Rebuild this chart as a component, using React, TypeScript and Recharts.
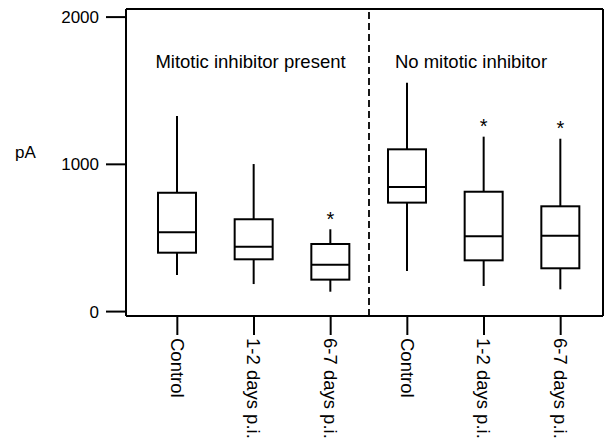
import React from 'react';
import { ComposedChart, Bar, Scatter, XAxis, YAxis, ReferenceLine, LabelList } from 'recharts';

// ---- data ----
const ids = ['mi-control', 'mi-12', 'mi-67', 'no-control', 'no-12', 'no-67'];
const tickLabels = ['Control', '1-2 days p.i.', '6-7 days p.i.', 'Control', '1-2 days p.i.', '6-7 days p.i.'];
const groupTitles = ['Mitotic inhibitor present', 'No mitotic inhibitor'];
const whiskerLow = [249, 187, 135, 276, 174, 151];
const q1 = [400, 355, 217, 740, 348, 294];
const median = [539, 441, 318, 846, 511, 515];
const q3 = [807, 627, 459, 1102, 814, 715];
const whiskerHigh = [1328, 1002, 559, 1554, 1188, 1174];
const significance = ['', '', '*', '', '*', '*'];
const yTicks = [0, 1000, 2000];
const yDomain: [number, number] = [-30, 2055];
const yLabel = 'pA';

const data = ids.map((id, i) => ({
  id,
  whisker: [whiskerLow[i], whiskerHigh[i]],
  box: [q1[i], q3[i]],
  median: median[i],
  sig: significance[i],
}));

const FONT = '"Liberation Sans", Arial, Helvetica, sans-serif';
const INK = '#000';
const BOX_W = 38;

const WhiskerShape = (p: any) => {
  const cx = p.x + p.width / 2;
  return <line x1={cx} x2={cx} y1={p.y} y2={p.y + p.height} stroke={INK} strokeWidth={2} />;
};

const BoxShape = (p: any) => (
  <rect x={p.x} y={p.y} width={p.width} height={p.height} fill="#fff" stroke={INK} strokeWidth={2} />
);

const MedianShape = (p: any) => (
  <line x1={p.cx - BOX_W / 2} x2={p.cx + BOX_W / 2} y1={p.cy} y2={p.cy} stroke={INK} strokeWidth={2} />
);

const StarLabel = (p: any) =>
  p.value ? (
    <text x={p.x + p.width / 2} y={p.y - 3.5} textAnchor="middle" fontSize={20} fontFamily={FONT} fill={INK}>
      {p.value}
    </text>
  ) : null;

const XTick = (p: any) => {
  const { x, y, payload } = p;
  const idx = ids.indexOf(payload.value);
  const label = idx >= 0 ? tickLabels[idx] : String(payload.value);
  return (
    <g transform={`translate(${x},${y})`}>
      <text transform="rotate(90)" x={0} y={6.6} textAnchor="start" fontSize={18.5} fontFamily={FONT} fill={INK}>
        {label}
      </text>
    </g>
  );
};

export default function App() {
  return (
    <div style={{ position: 'absolute', left: 0, top: 0, width: 604, height: 441, background: '#fff' }}>
      <ComposedChart
        width={604}
        height={441}
        data={data}
        margin={{ top: 8, right: 0, bottom: 0, left: 0 }}
        barGap={-BOX_W}
      >
        <XAxis
          dataKey="id"
          type="category"
          height={125}
          padding={{ left: 13, right: 4 }}
          axisLine={{ stroke: INK, strokeWidth: 2 }}
          tickLine={{ stroke: INK, strokeWidth: 2 }}
          tickSize={19}
          tickMargin={3}
          tick={<XTick />}
          interval={0}
        />
        <XAxis
          xAxisId="top"
          dataKey="id"
          type="category"
          orientation="top"
          height={1}
          padding={{ left: 13, right: 4 }}
          axisLine={{ stroke: INK, strokeWidth: 2 }}
          tick={false}
          tickLine={false}
        />
        <YAxis
          type="number"
          width={126}
          domain={yDomain}
          allowDataOverflow
          ticks={yTicks}
          interval={0}
          axisLine={{ stroke: INK, strokeWidth: 2 }}
          tickLine={{ stroke: INK, strokeWidth: 2 }}
          tickSize={20}
          tickMargin={7}
          tick={{ fill: INK, fontSize: 17, fontFamily: FONT }}
        />
        <YAxis
          yAxisId="right"
          orientation="right"
          type="number"
          width={1}
          domain={yDomain}
          allowDataOverflow
          ticks={yTicks}
          axisLine={{ stroke: INK, strokeWidth: 2 }}
          tick={false}
          tickLine={false}
        />
        <ReferenceLine
          x="mi-67"
          position="end"
          stroke={INK}
          strokeWidth={1.8}
          strokeDasharray="7 4"
        />
        <Bar dataKey="whisker" barSize={BOX_W} shape={<WhiskerShape />} isAnimationActive={false}>
          <LabelList dataKey="sig" content={<StarLabel />} />
        </Bar>
        <Bar dataKey="box" barSize={BOX_W} shape={<BoxShape />} isAnimationActive={false} />
        <Scatter dataKey="median" shape={<MedianShape />} isAnimationActive={false} />
      </ComposedChart>
      <svg
        width={604}
        height={441}
        style={{ position: 'absolute', left: 0, top: 0, pointerEvents: 'none' }}
      >
        <text x={250.5} y={68.3} textAnchor="middle" fontSize={18.5} fontFamily={FONT} fill={INK}>
          {groupTitles[0]}
        </text>
        <text x={471} y={68.3} textAnchor="middle" fontSize={18.5} fontFamily={FONT} fill={INK}>
          {groupTitles[1]}
        </text>
        <text x={15} y={157.5} textAnchor="start" fontSize={17} fontFamily={FONT} fill={INK}>
          {yLabel}
        </text>
      </svg>
    </div>
  );
}
